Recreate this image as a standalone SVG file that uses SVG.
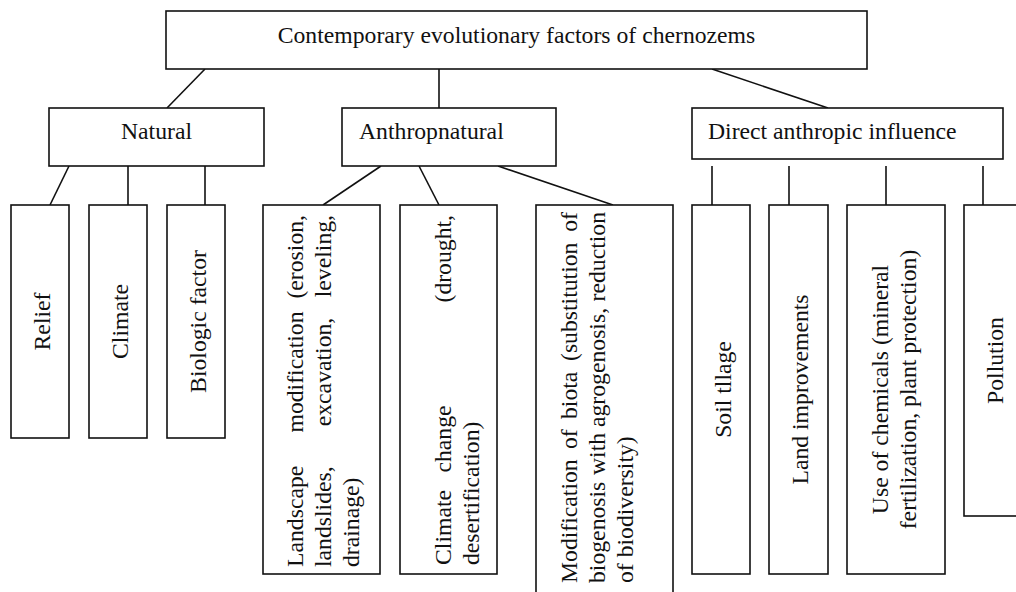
<svg xmlns="http://www.w3.org/2000/svg" width="1016" height="592" viewBox="0 0 1016 592">
<style>
.box{fill:#fff;stroke:#111;stroke-width:1.6}
.ln{stroke:#111;stroke-width:1.6;fill:none}
text{font-family:"Liberation Serif","Times New Roman",serif;font-size:23.7px;fill:#111}
.m{text-anchor:middle}
.e{text-anchor:end}
</style>
<rect width="1016" height="592" fill="#fff"/>
<g id="connectors">
<line class="ln" x1="205" y1="69" x2="167" y2="108"/>
<line class="ln" x1="439" y1="69" x2="439" y2="108"/>
<line class="ln" x1="712" y1="69" x2="828" y2="108"/>
<line class="ln" x1="69" y1="166" x2="50" y2="205"/>
<line class="ln" x1="128" y1="166" x2="128" y2="205"/>
<line class="ln" x1="205" y1="166" x2="205" y2="205"/>
<line class="ln" x1="381" y1="166" x2="323" y2="205"/>
<line class="ln" x1="419" y1="166" x2="439" y2="205"/>
<line class="ln" x1="498" y1="166" x2="613" y2="205"/>
<line class="ln" x1="712" y1="166" x2="712" y2="205"/>
<line class="ln" x1="789" y1="166" x2="789" y2="205"/>
<line class="ln" x1="886" y1="166" x2="886" y2="205"/>
<line class="ln" x1="983" y1="166" x2="983" y2="205"/>
</g>
<g id="root">
<rect class="box" x="166" y="11" width="701" height="58"/>
<text class="m" x="516.5" y="43">Contemporary evolutionary factors of chernozems</text>
</g>
<g id="natural">
<rect class="box" x="49" y="108" width="215" height="58"/>
<text class="m" x="156.5" y="139">Natural</text>
</g>
<g id="anthropnatural">
<rect class="box" x="342" y="108" width="214" height="58"/>
<text x="359" y="139">Anthropnatural</text>
</g>
<g id="direct">
<rect class="box" x="692" y="108" width="311" height="51"/>
<text x="708" y="139">Direct anthropic influence</text>
</g>
<g id="relief">
<rect class="box" x="11" y="205" width="58" height="233"/>
<text class="m" transform="rotate(-90)" x="-321.5" y="50">Relief</text>
</g>
<g id="climate">
<rect class="box" x="89" y="205" width="58" height="233"/>
<text class="m" transform="rotate(-90)" x="-321.5" y="128">Climate</text>
</g>
<g id="biologic">
<rect class="box" x="167" y="205" width="58" height="233"/>
<text class="m" transform="rotate(-90)" x="-321.5" y="206">Biologic factor</text>
</g>
<g id="landscape">
<rect class="box" x="263" y="205" width="117" height="369"/>
<g transform="rotate(-90)">
<text x="-567" y="303">Landscape</text>
<text class="m" x="-372" y="303">modification</text>
<text class="e" x="-215" y="303">(erosion,</text>
<text x="-567" y="331">landslides,</text>
<text class="m" x="-372" y="331">excavation,</text>
<text class="e" x="-215" y="331">leveling,</text>
<text x="-567" y="359">drainage)</text>
</g>
</g>
<g id="climate-change">
<rect class="box" x="400" y="205" width="97" height="369"/>
<g transform="rotate(-90)">
<text x="-565" y="451">Climate</text>
<text class="m" x="-439" y="451">change</text>
<text class="e" x="-215" y="451">(drought,</text>
<text x="-565" y="479">desertification)</text>
</g>
</g>
<g id="biota">
<rect class="box" x="536" y="205" width="137" height="400"/>
<g transform="rotate(-90)">
<text x="-583" y="577">Modification</text>
<text x="-449" y="577">of</text>
<text x="-419" y="577">biota</text>
<text x="-361" y="577">(substitution</text>
<text class="e" x="-212" y="577">of</text>
<text x="-583" y="605">biogenosis</text>
<text x="-475" y="605">with</text>
<text x="-427" y="605">agrogenosis,</text>
<text class="e" x="-212" y="605">reduction</text>
<text x="-583" y="633">of biodiversity)</text>
</g>
</g>
<g id="soil">
<rect class="box" x="692" y="205" width="58" height="369"/>
<text class="m" transform="rotate(-90)" x="-389.5" y="731">Soil tllage</text>
</g>
<g id="land">
<rect class="box" x="769" y="205" width="59" height="369"/>
<text class="m" transform="rotate(-90)" x="-389.5" y="808">Land improvements</text>
</g>
<g id="chemicals">
<rect class="box" x="847" y="205" width="98" height="369"/>
<g transform="rotate(-90)">
<text class="m" x="-389.5" y="888">Use of chemicals (mineral</text>
<text class="m" x="-389.5" y="916">fertilization, plant protection)</text>
</g>
</g>
<g id="pollution">
<rect class="box" x="964" y="205" width="60" height="311"/>
<text class="m" transform="rotate(-90)" x="-360.5" y="1003">Pollution</text>
</g>
</svg>
